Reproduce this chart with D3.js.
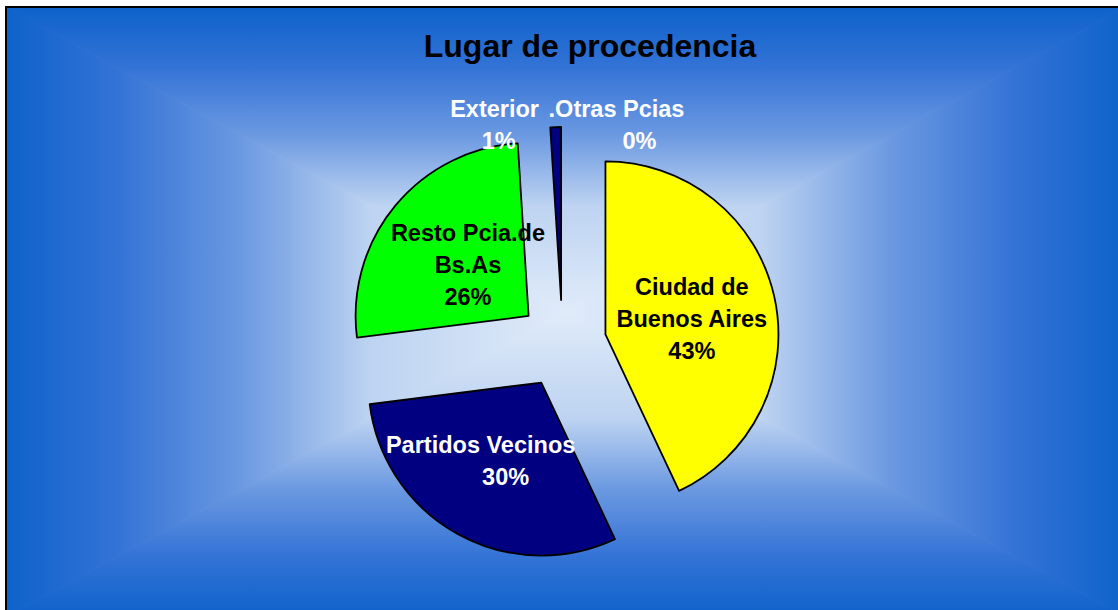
<!DOCTYPE html>
<html>
<head>
<meta charset="utf-8">
<script src="https://cdn.jsdelivr.net/npm/d3@7"></script>
<style>
  body { margin: 0; background: #fff; }
  svg { display: block; font-family: "Liberation Sans", Arial, sans-serif; font-weight: bold; }
</style>
</head>
<body>
<div id="chart"></div>
<script>
// data
var categories = ['Ciudad de\nBuenos Aires', 'Partidos Vecinos', 'Resto Pcia.de\nBs.As', 'Exterior', '.Otras Pcias'];
var shares = [43, 30, 26, 1, 0];
var chartTitle = 'Lugar de procedencia';

// styles
var fills = ['#ffff00', '#000080', '#00ff00', '#000080', '#ff00ff'];
var textColors = ['#000', '#fff', '#000', '#fff', '#fff'];
// label tweaks: [dx, dy, extra dx for the % line]
var nudges = [[2, 3, 0], [-19, 3, 25], [6, 4, 0], [-61, 1, 4], [54, 1, 23]];
var outside = [false, false, false, true, true];

var W = 1118, H = 610;
var frame = {x0: 6, y0: 7, x1: 1126, y1: 617};
var cx = 562.5, cy = 344, radius = 173, explode = 44, lineH = 32;

var svg = d3.select('#chart')
    .append('svg')
    .attr('width', W)
    .attr('height', H);

var defs = svg.append('defs');

// rectangular "from center" gradient: four triangles, each with a linear ramp
var mx = (frame.x0 + frame.x1) / 2, my = (frame.y0 + frame.y1) / 2;
var stops = [[0, '#0d62ca'], [0.2, '#3473d6'], [0.42, '#6b99e1'], [0.65, '#bdd3f1'], [1, '#e0ebf9']];
var sides = [
    {id: 'gt', pts: [[frame.x0, frame.y0], [frame.x1, frame.y0], [mx, my]], from: [mx, frame.y0]},
    {id: 'gb', pts: [[frame.x0, frame.y1], [frame.x1, frame.y1], [mx, my]], from: [mx, frame.y1]},
    {id: 'gl', pts: [[frame.x0, frame.y0], [frame.x0, frame.y1], [mx, my]], from: [frame.x0, my]},
    {id: 'gr', pts: [[frame.x1, frame.y0], [frame.x1, frame.y1], [mx, my]], from: [frame.x1, my]}
];
sides.forEach(function(s) {
    var g = defs.append('linearGradient')
        .attr('id', s.id)
        .attr('gradientUnits', 'userSpaceOnUse')
        .attr('x1', s.from[0]).attr('y1', s.from[1])
        .attr('x2', mx).attr('y2', my);
    g.selectAll('stop').data(stops).enter().append('stop')
        .attr('offset', function(d) { return d[0]; })
        .attr('stop-color', function(d) { return d[1]; });
});

svg.append('g')
    .selectAll('polygon')
    .data(sides)
    .enter()
    .append('polygon')
    .attr('points', function(d) { return d.pts.join(' '); })
    .attr('fill', function(d) { return 'url(#' + d.id + ')'; })
    .attr('stroke', function(d) { return 'url(#' + d.id + ')'; })
    .attr('stroke-width', 1);

svg.append('rect')
    .attr('x', frame.x0)
    .attr('y', frame.y0)
    .attr('width', frame.x1 - frame.x0)
    .attr('height', frame.y1 - frame.y0)
    .attr('fill', 'none')
    .attr('stroke', '#000')
    .attr('stroke-width', 2);

svg.append('text')
    .attr('x', 590)
    .attr('y', 57)
    .attr('text-anchor', 'middle')
    .style('font-size', '32px')
    .attr('fill', '#000')
    .text(chartTitle);

var pie = d3.pie().sort(null).value(function(d) { return d; });
var arcs = pie(shares);
var total = d3.sum(shares);

var arc = d3.arc().innerRadius(0).outerRadius(radius);
var outerArc = d3.arc().innerRadius(radius * 1.27).outerRadius(radius * 1.27);

function shift(d) {
    var a = (d.startAngle + d.endAngle) / 2;
    return [Math.sin(a) * explode, -Math.cos(a) * explode];
}

var pieG = svg.append('g').attr('transform', 'translate(' + cx + ',' + cy + ')');

pieG.selectAll('path')
    .data(arcs.filter(function(d) { return d.value > 0; }))
    .enter()
    .append('path')
    .attr('d', arc)
    .attr('transform', function(d) { return 'translate(' + shift(d) + ')'; })
    .attr('fill', function(d) { return fills[d.index]; })
    .attr('stroke', '#000')
    .attr('stroke-width', 1.8)
    .attr('stroke-linejoin', 'round');

var labels = pieG.selectAll('text.lbl')
    .data(arcs)
    .enter()
    .append('text')
    .attr('class', 'lbl')
    .attr('text-anchor', 'middle')
    .style('font-size', '23.5px')
    .attr('fill', function(d) { return textColors[d.index]; });

labels.each(function(d) {
    var i = d.index;
    var p;
    if (outside[i]) {
        p = outerArc.centroid(d);
    } else {
        var c = arc.centroid(d), s = shift(d);
        p = [c[0] + s[0], c[1] + s[1]];
    }
    var lines = categories[i].split('\n');
    lines.push(Math.round(d.value / total * 100) + '%');
    var n = lines.length;
    var t = d3.select(this);
    lines.forEach(function(line, k) {
        t.append('tspan')
            .attr('x', p[0] + nudges[i][0] + (k == n - 1 ? nudges[i][2] : 0))
            .attr('y', p[1] + nudges[i][1] + (k - (n - 1) / 2) * lineH + 8)
            .text(line);
    });
});
</script>
</body>
</html>
